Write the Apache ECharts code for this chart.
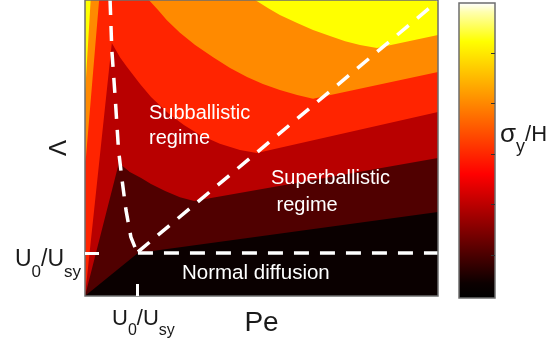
<!DOCTYPE html>
<html><head><meta charset="utf-8">
<script src="https://cdn.jsdelivr.net/npm/echarts@6/dist/echarts.min.js"></script>
<style>html,body{margin:0;padding:0;background:#fff}#c{width:555px;height:347px}</style>
</head><body><div id="c"></div>
<script>
// ---- data (arbitrary units: Pe 0..100, Lambda 0..100) ----
const yellowEdgeLeft  = [[1.6,100],[0,67.9]];
const yellowEdgeRight = [[48.2,100],[51.8,97.3],[55.2,94.9],[60.1,92.2],[64.6,89.9],[69.4,87.8],[73.7,86.1],[77.9,84.8],[82.7,83.8],[100,88.2]];
const orangeEdgeLeft  = [[4.0,100],[0.3,47.3],[0,45.3]];
const orangeEdgeRight = [[18.1,100],[20.7,96.6],[23.2,93.2],[26.9,88.9],[31.2,84.8],[36.3,80.7],[41.1,77.0],[45.9,74.0],[50.4,71.6],[55.2,69.6],[60.1,67.9],[64.6,66.6],[100,75.7]];
const redEdge     = [[0,0],[7.6,85.5],[9.9,80.7],[11.9,77.4],[15.6,71.6],[18.7,67.2],[23.5,61.8],[28.0,57.8],[32.6,54.4],[38.2,51.4],[43.9,49.3],[48.7,48.3],[100,62.2]];
const darkRedEdge = [[0,0],[9.6,44.9],[12.7,41.9],[15.9,39.9],[18.7,37.8],[22.7,35.5],[26.9,33.4],[30.9,32.1],[100,46.6]];
const maroonEdge  = [[0,0],[15.0,14.5],[100,28.4]];
const crossoverCurve = [[7.1,100],[7.6,83.1],[8.6,66.2],[9.5,49.3],[10.5,39.2],[11.6,29.1],[13.0,19.9],[14.7,14.9]];
const ballisticLine  = [[15.0,14.9],[100,99.7]];
const diffusionLine  = [[15.0,14.5],[100,14.5]];
const thresholdPe = 14.7;
const thresholdLambda = 14.5;
const thresholdLabel = '{m|U}{s|0}{m|/U}{s|sy}';
const colorbarTicks = [0.146,0.317,0.488,0.659,0.83];
const fills = ['#ffff00','#ff8a00','#ff2400','#b80000','#500000','#0a0000'];

// nested "below level" regions, painted lightest first
const regions = [
  [[0,0],[100,0],[100,100],[0,100]],
  [...yellowEdgeRight,[100,0],[0,0],...yellowEdgeLeft.slice().reverse()],
  [...orangeEdgeRight,[100,0],[0,0],...orangeEdgeLeft.slice().reverse()],
  [...redEdge,[100,0]],
  [...darkRedEdge,[100,0]],
  [...maroonEdge,[100,0]]
];

const FONT = 'Liberation Sans';
const TXT = '#1a1a1a';
const dash = {color:'#ffffff', width:3.5, type:[15,11]};
const lineSeries = (d) => ({type:'line', data:d, xAxisIndex:0, yAxisIndex:0, showSymbol:false, symbol:'none',
  lineStyle:dash, z:5, silent:true, animation:false});
const labelRich = {
  m0:{fontSize:22, fontFamily:FONT, color:TXT, fill:TXT, padding:[0,0,0,13]},
  m:{fontSize:22, fontFamily:FONT, color:TXT, fill:TXT},
  s:{fontSize:16, fontFamily:FONT, color:TXT, fill:TXT, padding:[24,0,0,0]}
};
const leftRich = {
  m:{fontSize:23, fontFamily:FONT, color:TXT, fill:TXT},
  s:{fontSize:17, fontFamily:FONT, color:TXT, fill:TXT, padding:[24,0,0,0]}
};

const chart = echarts.init(document.getElementById('c'), null, {renderer:'canvas'});
chart.setOption({
  animation:false,
  grid:[
    {left:85, top:0, width:353, height:296, show:true, borderColor:'#6e6e6e', borderWidth:1.5, backgroundColor:'transparent', z:10,
     containLabel:false, outerBoundsMode:'none'},
    {left:459, top:3, width:36, height:295, show:true, borderColor:'#6e6e6e', borderWidth:1.5, backgroundColor:'transparent', z:10,
     containLabel:false, outerBoundsMode:'none'}
  ],
  xAxis:[
    {type:'value', gridIndex:0, min:0, max:100, z:10,
     name:'Pe', nameLocation:'middle', nameGap:13, nameMoveOverlap:false,
     nameTextStyle:{fontSize:28, fontFamily:FONT, color:TXT, verticalAlign:'top'},
     axisLine:{show:false}, splitLine:{show:false},
     axisTick:{show:true, inside:true, length:12, lineStyle:{color:'#fff', width:3}, customValues:[thresholdPe]},
     axisLabel:{show:true, customValues:[thresholdPe], margin:3, color:TXT,
       formatter:() => '{m0|U}{s|0}{m|/U}{s|sy}', rich:labelRich}},
    {type:'category', gridIndex:1, data:['c'], show:false}
  ],
  yAxis:[
    {type:'value', gridIndex:0, min:0, max:100, z:10,
     name:'Λ', nameLocation:'middle', nameGap:14, nameRotate:90, nameMoveOverlap:false,
     nameTextStyle:{fontSize:24, fontFamily:FONT, color:TXT},
     axisLine:{show:false}, splitLine:{show:false},
     axisTick:{show:true, inside:true, length:14, lineStyle:{color:'#fff', width:3}, customValues:[thresholdLambda]},
     axisLabel:{show:false}},
    {type:'value', gridIndex:1, min:0, max:1, position:'right', z:10,
     axisLine:{show:false}, splitLine:{show:false}, axisLabel:{show:false},
     axisTick:{show:true, inside:true, length:4, lineStyle:{color:'#333', width:1}, customValues:colorbarTicks}}
  ],
  series:[
    {type:'custom', xAxisIndex:0, yAxisIndex:0, silent:true, z:2,
     data:regions.map((r,i)=>[i,i]),
     renderItem:(params, api) => ({
       type:'polygon',
       shape:{points:regions[params.dataIndex].map(p=>api.coord(p))},
       style:{fill:fills[params.dataIndex], stroke:null}
     })},
    lineSeries(crossoverCurve),
    lineSeries(ballisticLine),
    lineSeries(diffusionLine),
    {type:'bar', xAxisIndex:1, yAxisIndex:1, data:[1], barWidth:'100%', silent:true,
     itemStyle:{color:{type:'linear', x:0, y:1, x2:0, y2:0, colorStops:[
       {offset:0, color:'#000000'},{offset:0.05, color:'#0c0000'},{offset:0.42, color:'#ff0000'},
       {offset:0.87, color:'#ffff00'},{offset:0.97, color:'#ffffb0'},{offset:1, color:'#ffffff'}]}}}
  ]
});

// y-axis threshold label placed at the axis value of the tick
const tickPx = chart.convertToPixel({gridIndex:0}, [0, thresholdLambda]);
chart.setOption({
  graphic:[
    {type:'text', x:tickPx[0]-4, y:tickPx[1]+7, z:20, style:{text:thresholdLabel, fill:TXT, textFill:TXT,
      align:'right', textAlign:'right', verticalAlign:'middle', textVerticalAlign:'middle', rich:leftRich}},
    {type:'text', x:149, y:101, z:20, style:{text:'Subballistic\nregime', fill:'#fff', textFill:'#fff',
      fontSize:20, fontFamily:FONT, lineHeight:25, align:'left', textAlign:'left', verticalAlign:'top', textVerticalAlign:'top'}},
    {type:'text', x:271, y:164.5, z:20, style:{text:'Superballistic\n regime', fill:'#fff', textFill:'#fff',
      fontSize:20, fontFamily:FONT, lineHeight:27, align:'left', textAlign:'left', verticalAlign:'top', textVerticalAlign:'top'}},
    {type:'text', x:182, y:261, z:20, style:{text:'Normal diffusion', fill:'#fff', textFill:'#fff',
      fontSize:20.5, fontFamily:FONT, lineHeight:24, align:'left', textAlign:'left', verticalAlign:'top', textVerticalAlign:'top'}},
    {type:'text', x:500, y:135, z:20, style:{text:'{g|σ}{s|y}{m|/H}', fill:TXT, textFill:TXT,
      align:'left', textAlign:'left', verticalAlign:'middle', textVerticalAlign:'middle',
      rich:{g:{fontSize:26, fontFamily:FONT, fill:TXT, textFill:TXT},
            s:{fontSize:18, fontFamily:FONT, fill:TXT, textFill:TXT, padding:[25,0,0,0]},
            m:{fontSize:22, fontFamily:FONT, fill:TXT, textFill:TXT}}}}
  ]
});
</script>
</body></html>
